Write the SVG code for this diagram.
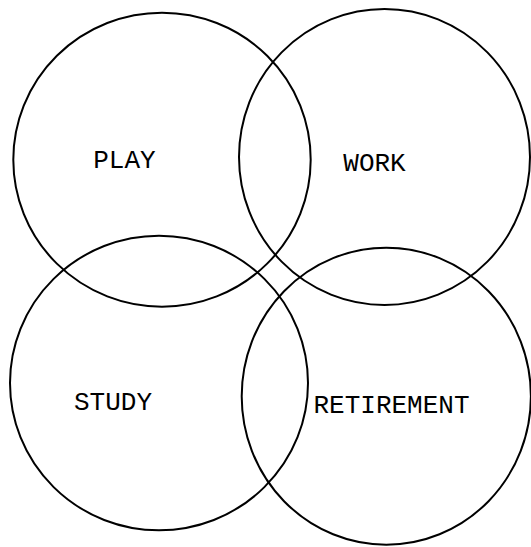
<svg xmlns="http://www.w3.org/2000/svg" width="531" height="547" viewBox="0 0 531 547">
<style>
.c{fill:none;stroke:#000;stroke-width:2}
.t{font-family:"Liberation Mono","Courier New",monospace;font-size:26px;fill:#000;text-anchor:middle}
</style>
<rect width="531" height="547" fill="#fff"/>
<g id="connectors"/>
<g id="play"><ellipse class="c" cx="162" cy="159.7" rx="148.7" ry="147"/><text class="t" x="124.4" y="168">PLAY</text></g>
<g id="work"><ellipse class="c" cx="384.5" cy="157" rx="145.5" ry="148"/><text class="t" x="374.5" y="171">WORK</text></g>
<g id="study"><ellipse class="c" cx="159" cy="383" rx="149" ry="147.3"/><text class="t" x="113" y="410">STUDY</text></g>
<g id="retirement"><ellipse class="c" cx="386.3" cy="396.2" rx="144.6" ry="148.5"/><text class="t" x="391.5" y="413">RETIREMENT</text></g>
</svg>
